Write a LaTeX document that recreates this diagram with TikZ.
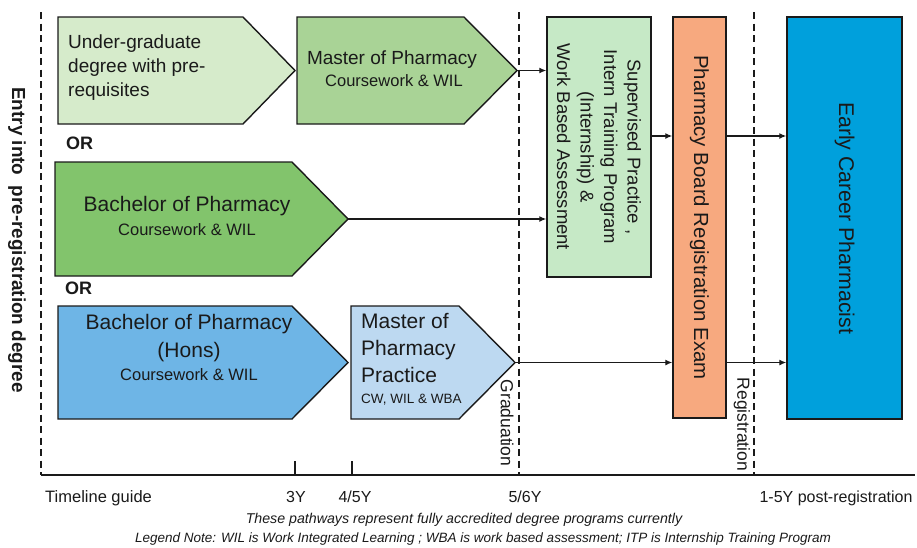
\documentclass[tikz,border=0pt]{standalone}
\usepackage{fontspec}
\setmainfont{Liberation Sans}
\usetikzlibrary{arrows.meta}
\definecolor{cA}{HTML}{D6EBCB}
\definecolor{cB}{HTML}{A9D396}
\definecolor{cC}{HTML}{82C46C}
\definecolor{cD}{HTML}{6EB5E6}
\definecolor{cE}{HTML}{BDD9F1}
\definecolor{cSup}{HTML}{C6E9C6}
\definecolor{cBoard}{HTML}{F7A97F}
\definecolor{cEarly}{HTML}{00A0DC}
\definecolor{ink}{HTML}{1A1A1A}
\newcommand\fsz[2]{\fontsize{#1}{#2}\selectfont}
\begin{document}
\begin{tikzpicture}[x=1pt,y=-1pt,
  box/.style={draw=ink, line width=1.4pt},
  rbox/.style={box, inner sep=0pt},
  dashv/.style={draw=ink, dash pattern=on 7pt off 4.5pt, line width=1.4pt},
  arr/.style={draw=ink, -{Latex[length=7pt,width=6pt]}, line width=1.3pt},
  txt/.style={inner sep=0pt, text=ink},
  vtxt/.style={txt, rotate=-90, align=center}]
\useasboundingbox (0,0) rectangle (917,547);

% timeline frame
\coordinate (d0t) at (41,12);   \coordinate (d0b) at (41,475);
\coordinate (d1t) at (519,12);  \coordinate (d1b) at (519,475);
\coordinate (d2t) at (754,12);  \coordinate (d2b) at (754,475);
\coordinate (axR) at (915,475);
\draw[dashv] (d0t) -- (d0b);
\draw[dashv] (d1t) -- (d1b);
\draw[dashv] (d2t) -- (d2b);
\draw[draw=ink, line width=1.3pt] (d0b) -- (axR);
\draw[draw=ink, line width=1.3pt] (295,461) -- (295,475);
\draw[draw=ink, line width=1.3pt] (352,461) -- (352,475);

% pentagon boxes
\draw[box, fill=cA] (58,17) -- (243,17) -- (295,70.5) -- (243,124) -- (58,124) -- cycle;
\coordinate (Atip) at (295,70.5);
\draw[box, fill=cB] (297,17) -- (464,17) -- (517,70.5) -- (464,124) -- (297,124) -- cycle;
\coordinate (Btip) at (517,70.5);
\draw[box, fill=cC] (55,162) -- (292,162) -- (348,219) -- (292,276) -- (55,276) -- cycle;
\coordinate (Ctip) at (348,219);
\draw[box, fill=cD] (58,306) -- (292,306) -- (348,362.5) -- (292,419) -- (58,419) -- cycle;
\coordinate (Dtip) at (348,362.5);
\draw[box, fill=cE] (351,306) -- (459,306) -- (515,362.5) -- (459,419) -- (351,419) -- cycle;
\coordinate (Etip) at (515,362.5);

% texts in pentagons
\node[txt, anchor=mid west, font=\fsz{19}{24}] (a1) at (68,46) {Under-graduate};
\node[txt, anchor=mid west, font=\fsz{19}{24}] (a2) at (68,70) {degree with pre-};
\node[txt, anchor=mid west, font=\fsz{19}{24}] (a3) at (68,94) {requisites};
\node[txt, anchor=mid, font=\fsz{19}{24}] (b1) at (392,62) {Master of Pharmacy};
\node[txt, anchor=mid, font=\fsz{16.5}{20}] (b2) at (394,84) {Coursework \& WIL};
\node[txt, anchor=mid, font=\fsz{21}{26}] (c1) at (187,209) {Bachelor of Pharmacy};
\node[txt, anchor=mid, font=\fsz{16.5}{20}] (c2) at (187,233) {Coursework \& WIL};
\node[txt, anchor=mid, font=\fsz{21}{26}] (d1) at (189,327) {Bachelor of Pharmacy};
\node[txt, anchor=mid, font=\fsz{21}{26}] (d2) at (189,355) {(Hons)};
\node[txt, anchor=mid, font=\fsz{16.5}{20}] (d3) at (189,378) {Coursework \& WIL};
\node[txt, anchor=mid west, font=\fsz{21}{26}] (e1) at (361,326) {Master of};
\node[txt, anchor=mid west, font=\fsz{21}{26}] (e2) at (361,353) {Pharmacy};
\node[txt, anchor=mid west, font=\fsz{21}{26}] (e3) at (361,380) {Practice};
\node[txt, anchor=mid west, font=\fsz{13.5}{16}] (e4) at (361,401) {CW, WIL \& WBA};

% OR labels
\node[txt, anchor=mid west, font=\fsz{18}{22}\bfseries] (or1) at (66,147) {OR};
\node[txt, anchor=mid west, font=\fsz{18}{22}\bfseries] (or2) at (65,292) {OR};

% rectangles
\node[rbox, fill=cSup, minimum width=104pt, minimum height=260pt] (sup) at (599,147) {};
\node[vtxt, font=\fsz{18.5}{23.5}] (supt) at (sup.center) {Supervised Practice ,\\Intern Training Program\\(Internship) \&\\Work Based Assessment};
\node[rbox, fill=cBoard, minimum width=53pt, minimum height=401pt] (board) at (699.5,217.5) {};
\node[vtxt, font=\fsz{20.4}{24}] (boardt) at (board.center) {Pharmacy Board Registration Exam};
\node[rbox, fill=cEarly, minimum width=115pt, minimum height=402pt] (early) at (844.5,218) {};
\node[vtxt, font=\fsz{21.3}{25}] (earlyt) at (early.center) {Early Career Pharmacist};

% vertical labels
\node[vtxt, font=\fsz{18.9}{22}\bfseries] (entry) at (17,240) {Entry into\hspace{0.55em}pre-registration degree};
\node[vtxt, font=\fsz{17.5}{20}] (grad) at (507,423) {Graduation};
\node[vtxt, font=\fsz{17.5}{20}] (reg) at (742,424.5) {Registration};

% connectors
\coordinate (r2) at (0,136);
\draw[arr] (Btip) -- (Btip -| sup.west);
\draw[arr] (Ctip) -- (Ctip -| sup.west);
\draw[arr] (sup.east |- r2) -- (board.west |- r2);
\draw[arr] (board.east |- r2) -- (early.west |- r2);
\draw[arr] (Etip) -- (Etip -| board.west);
\draw[arr] (board.east |- Etip) -- (early.west |- Etip);

% timeline labels
\node[txt, anchor=mid west, font=\fsz{16.5}{18}] (tg) at (45,500) {Timeline guide};
\node[txt, anchor=mid, font=\fsz{16}{18}] (y3) at (296,500) {3Y};
\node[txt, anchor=mid, font=\fsz{16}{18}] (y45) at (355,500) {4/5Y};
\node[txt, anchor=mid, font=\fsz{16}{18}] (y56) at (525,500) {5/6Y};
\node[txt, anchor=mid, font=\fsz{16}{18}] (y15) at (836,500) {1-5Y post-registration};
\node[txt, anchor=mid, font=\fsz{14.2}{16}\itshape] (n1) at (464,521) {These pathways represent fully accredited degree programs currently};
\node[txt, anchor=mid, font=\fsz{13.5}{16}\itshape] (n2) at (483,540) {Legend Note: WIL is Work Integrated Learning ; WBA is work based assessment; ITP is Internship Training Program};
\end{tikzpicture}
\end{document}
